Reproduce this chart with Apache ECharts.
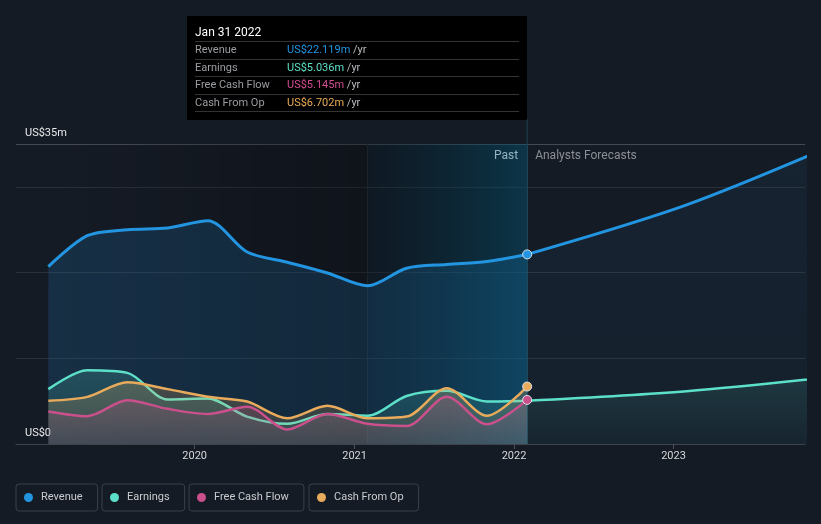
<!DOCTYPE html>
<html>
<head>
<meta charset="utf-8">
<script src="https://cdn.jsdelivr.net/npm/echarts@6/dist/echarts.min.js"></script>
<style>
html,body{margin:0;padding:0;background:#151b25;}
#c{width:821px;height:524px;}
</style>
</head>
<body>
<div id="c"></div>
<script>
// ---- data (US$ millions, trailing twelve months) ----
const pastDates = ['2019-01-31','2019-04-30','2019-07-31','2019-10-31','2020-01-31','2020-04-30','2020-07-31','2020-10-31','2021-01-31','2021-04-30','2021-07-31','2021-10-31','2022-01-31'];
const revenuePast  = [20.7, 24.3, 25.0, 25.2, 26.05, 22.4, 21.2, 19.95, 18.45, 20.5, 20.95, 21.3, 22.119];
const earningsPast = [6.4, 8.6, 8.3, 5.2, 5.3, 3.2, 2.35, 3.5, 3.3, 5.6, 6.2, 4.95, 5.036];
const fcfPast      = [3.8, 3.25, 5.1, 4.1, 3.5, 4.35, 1.7, 3.5, 2.35, 2.1, 5.5, 2.3, 5.145];
const cfoPast      = [5.05, 5.5, 7.2, 6.4, 5.5, 4.95, 3.0, 4.45, 3.0, 3.2, 6.5, 3.3, 6.702];
const forecastDates    = ['2022-01-31','2023-01-31','2024-01-31'];
const revenueForecast  = [22.119, 27.9, 35.5];
const earningsForecast = [5.036, 6.15, 8.0];
const yearTicks = ['2020-01-01','2021-01-01','2022-01-01','2023-01-01'];
const axisStart = '2018-11-18';
const axisEnd = '2023-10-29';
const highlightStart = '2021-01-31';
const tooltipTitle = 'Jan 31 2022';
const seriesNames = ['Revenue','Earnings','Free Cash Flow','Cash From Op'];

const C = {rev:'#2394df', earn:'#5de0c9', fcf:'#c9508b', cfo:'#e8ab5c'};
const T = d => Date.parse(d + 'T00:00:00Z');

function pairs(dates, vals){ return dates.map((d,i)=>[T(d), vals[i]]); }
function withEndMarker(dates, vals, color){
  const d = pairs(dates, vals);
  const li = d.length-1;
  d[li] = {value:d[li], symbol:'circle', symbolSize:9,
           itemStyle:{color:color, borderColor:'#dde4ec', borderWidth:1}};
  return d;
}
function vgrad(rgb, a1, a2){
  return {type:'linear',x:0,y:0,x2:0,y2:1,colorStops:[
    {offset:0,color:'rgba('+rgb+','+a1+')'},{offset:1,color:'rgba('+rgb+','+a2+')'}]};
}

const lastIdx = pastDates.length-1;
function fmt(v){ return 'US$'+v.toFixed(3)+'m'; }
function tooltipHtml(){
  const rows = [
    [seriesNames[0], revenuePast[lastIdx], '#2394df'],
    [seriesNames[1], earningsPast[lastIdx], '#5de0c9'],
    [seriesNames[2], fcfPast[lastIdx], '#d24e92'],
    [seriesNames[3], cfoPast[lastIdx], '#eaac5b']
  ];
  let h = '<div style="width:324px;font-family:Roboto,sans-serif;">'+
    '<div style="color:#fff;font-size:12px;line-height:16px;padding-top:1px;padding-bottom:1px;border-bottom:1px solid #333;">'+tooltipTitle+'</div>';
  rows.forEach(r=>{
    h += '<div style="display:flex;font-size:11px;line-height:16.5px;border-bottom:1px solid #333;">'+
      '<span style="width:92px;color:#9a9da2;">'+r[0]+'</span>'+
      '<span style="color:'+r[2]+';">'+fmt(r[1])+'</span>'+
      '<span style="color:#b8bbbf;">&nbsp;/yr</span></div>';
  });
  return h+'</div>';
}

function legendBox(name, left){
  return {
    data:[name], left:left, top:484, icon:'circle', itemWidth:15, itemHeight:9,
    padding:[6,15,6,8], borderColor:'#3a4049', borderWidth:1, borderRadius:3,
    textStyle:{color:'#c9cbce', fontSize:11, lineHeight:15, fontFamily:'Roboto'},
    selectedMode:false
  };
}

const yearTickVals = yearTicks.map(T);
const chart = echarts.init(document.getElementById('c'), null, {renderer:'canvas'});
const option = {
  backgroundColor:'#151b25',
  animation:false,
  textStyle:{fontFamily:'Roboto'},
  grid:{left:16, right:16, top:144, bottom:80, containLabel:false},
  legend:[legendBox(seriesNames[0],16), legendBox(seriesNames[1],102), legendBox(seriesNames[2],189), legendBox(seriesNames[3],309)],
  tooltip:{
    trigger:'item', triggerOn:'none', alwaysShowContent:true, transitionDuration:0,
    position:[187,16], backgroundColor:'#000', borderWidth:0, padding:[7,8,8,8],
    extraCssText:'box-shadow:none;border-radius:0;',
    formatter: tooltipHtml
  },
  xAxis:{
    type:'value', min:T(axisStart), max:T(axisEnd), scale:true,
    axisLine:{lineStyle:{color:'#3f444c', width:1}},
    axisTick:{show:true, length:5, lineStyle:{color:'#4c5159'}, customValues: yearTickVals},
    axisLabel:{color:'#d6d8db', fontSize:11, margin:7, customValues: yearTickVals,
      formatter:v=>String(new Date(v).getUTCFullYear())},
    splitLine:{show:false}
  },
  yAxis:{
    type:'value', min:0, max:35, interval:10,
    axisLine:{show:false}, axisTick:{show:false},
    axisLabel:{inside:true, margin:9, color:'#e8e9ea', fontSize:11, verticalAlign:'bottom', padding:[0,0,5,0],
      formatter:v=> v===35 ? 'US$35m' : (v===0 ? 'US$0' : '')},
    splitLine:{show:true, lineStyle:{color:['#2b3038','#2b3038','#2b3038','#2b3038','#454a52'], width:1}}
  },
  series:[
    {name:seriesNames[0], type:'line', color:C.rev, smooth:0.3, symbol:'none', z:2,
     data:pairs(forecastDates, revenueForecast),
     lineStyle:{width:3, color:C.rev}, areaStyle:{color:vgrad('35,148,223',0.09,0.06)}},
    {name:seriesNames[0], type:'line', color:C.rev, smooth:0.3, symbol:'none', z:2,
     data:withEndMarker(pastDates, revenuePast, C.rev),
     lineStyle:{width:3, color:C.rev}, areaStyle:{color:'rgba(35,148,223,0.24)'},
     markArea:{silent:true, z:1, data:[
       [{xAxis:T(pastDates[0]), itemStyle:{color:{type:'linear',x:0,y:0,x2:1,y2:0,colorStops:[{offset:0,color:'rgba(0,0,0,0)'},{offset:1,color:'rgba(0,0,0,0.28)'}]}}},{xAxis:T(highlightStart)}],
       [{xAxis:T(highlightStart), itemStyle:{color:{type:'linear',x:0,y:0,x2:1,y2:0,colorStops:[{offset:0,color:'rgba(0,20,30,0.3)'},{offset:1,color:'rgba(0,85,115,0.45)'}]}}},{xAxis:T(pastDates[lastIdx])}]
     ]},
     markLine:{silent:true, z:1, symbol:'none', label:{show:false},
       data:[{xAxis:T(highlightStart), lineStyle:{color:'#19252b', width:1, type:'solid'}},
             {xAxis:T(pastDates[lastIdx]), lineStyle:{color:'#1e4456', width:1, type:'solid'}}]}
    },
    {name:seriesNames[1], type:'line', color:C.earn, smooth:0.3, symbol:'none', z:3,
     data:pairs(forecastDates, earningsForecast),
     lineStyle:{width:2.5, color:C.earn}, areaStyle:{color:vgrad('93,224,200',0.18,0.03)}},
    {name:seriesNames[1], type:'line', color:C.earn, smooth:0.3, symbol:'none', z:3,
     data:pairs(pastDates, earningsPast),
     lineStyle:{width:2.5, color:C.earn}, areaStyle:{color:vgrad('93,224,200',0.26,0.12)}},
    {name:seriesNames[3], type:'line', color:C.cfo, smooth:0.3, symbol:'none', z:4,
     data:withEndMarker(pastDates, cfoPast, C.cfo),
     lineStyle:{width:2.5, color:C.cfo}, areaStyle:{color:vgrad('233,174,91',0.34,0.16)}},
    {name:seriesNames[2], type:'line', color:C.fcf, smooth:0.3, symbol:'none', z:5,
     data:withEndMarker(pastDates, fcfPast, C.fcf),
     lineStyle:{width:2.5, color:C.fcf}, areaStyle:{color:vgrad('200,80,138',0.3,0.14)}}
  ]
};
chart.setOption(option);

const pTop = chart.convertToPixel({gridIndex:0}, [T(pastDates[lastIdx]), 35]);
chart.setOption({graphic:[
  {type:'line', silent:true, z:0, shape:{x1:pTop[0], y1:119, x2:pTop[0], y2:pTop[1]}, style:{stroke:'#1e4456', lineWidth:1}},
  {type:'text', silent:true, x:pTop[0]-9, y:pTop[1]+12, style:{text:'Past', fill:'#ffffff', font:'12px Roboto', align:'right', verticalAlign:'middle'}},
  {type:'text', silent:true, x:pTop[0]+8, y:pTop[1]+12, style:{text:'Analysts Forecasts', fill:'#8b8f95', font:'12px Roboto', align:'left', verticalAlign:'middle'}}
]});
chart.dispatchAction({type:'showTip', seriesIndex:1, dataIndex:lastIdx});
</script>
</body>
</html>
